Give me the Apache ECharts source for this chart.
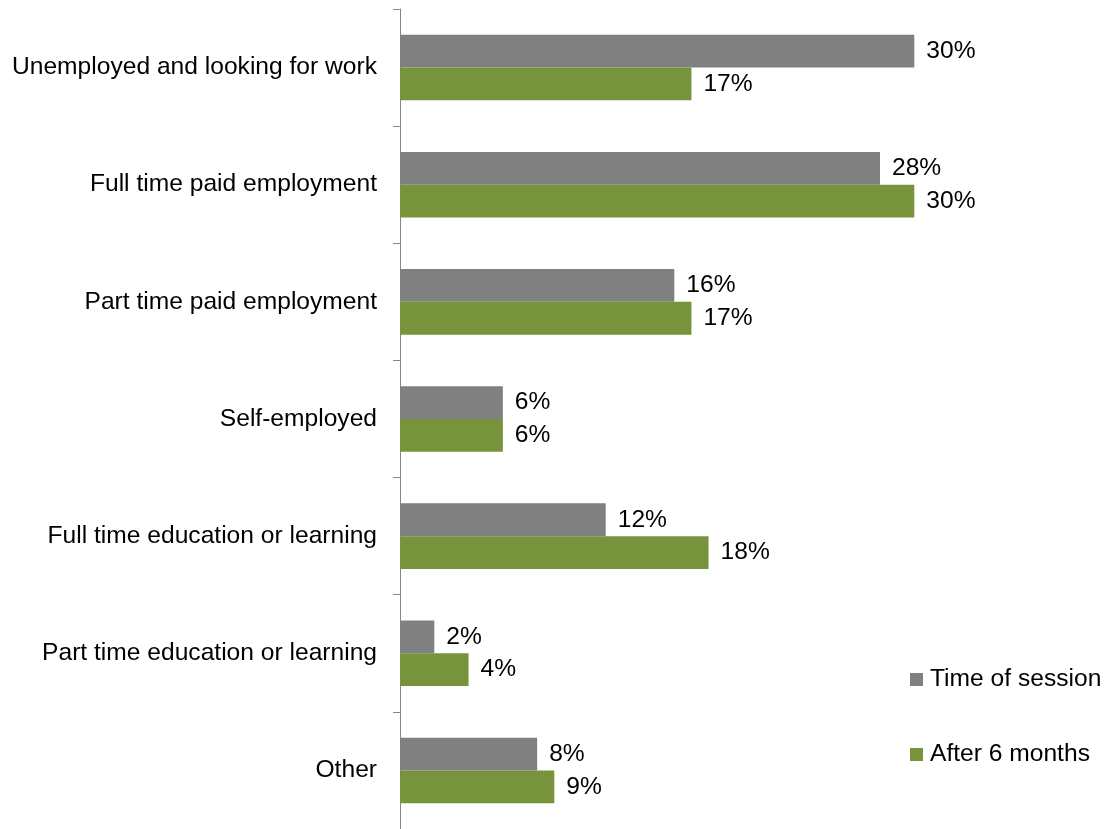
<!DOCTYPE html>
<html>
<head>
<meta charset="utf-8">
<title>Employment status</title>
<script src="https://cdn.jsdelivr.net/npm/echarts@6/dist/echarts.min.js"></script>
<style>
  html, body { margin: 0; padding: 0; background: #ffffff; }
  #chart { width: 1106px; height: 829px; }
</style>
</head>
<body>
<div id="chart"></div>
<script>
// Employment status categories, listed top to bottom
const categories = [
  'Unemployed and looking for work',
  'Full time paid employment',
  'Part time paid employment',
  'Self-employed',
  'Full time education or learning',
  'Part time education or learning',
  'Other'
];

// Share of respondents (%) in each status
const timeOfSession = [30, 28, 16, 6, 12, 2, 8];
const after6Months = [17, 30, 17, 6, 18, 4, 9];

const seriesNames = ['Time of session', 'After 6 months'];

const FONT = '"Liberation Sans", Arial, sans-serif';
const FONT_SIZE = 24.6;

const chart = echarts.init(document.getElementById('chart'));

const labelStyle = {
  show: true,
  position: 'right',
  distance: 12,
  formatter: '{c}%',
  color: '#000',
  fontFamily: FONT,
  fontSize: FONT_SIZE
};

chart.setOption({
  animation: false,
  backgroundColor: '#ffffff',
  legend: {
    orient: 'vertical',
    left: 905,
    top: 662,
    itemWidth: 13,
    itemHeight: 13,
    itemGap: 50,
    icon: 'rect',
    textStyle: { fontFamily: FONT, fontSize: FONT_SIZE, color: '#000', padding: [0, 0, 0, 2] },
    data: seriesNames
  },
  grid: {
    left: 400,
    right: 106,
    top: 9,
    bottom: 0,
    containLabel: false
  },
  xAxis: {
    type: 'value',
    min: 0,
    max: 35,
    show: false
  },
  yAxis: {
    type: 'category',
    inverse: true,
    data: categories,
    axisLine: { show: true, lineStyle: { color: '#868686', width: 1 } },
    axisTick: { show: true, length: 7, lineStyle: { color: '#868686' } },
    axisLabel: {
      margin: 23,
      color: '#000',
      fontFamily: FONT,
      fontSize: FONT_SIZE
    },
    splitLine: { show: false }
  },
  series: [
    {
      name: seriesNames[0],
      type: 'bar',
      data: timeOfSession,
      barGap: '0%',
      barCategoryGap: '44%',
      itemStyle: { color: '#808080' },
      label: labelStyle
    },
    {
      name: seriesNames[1],
      type: 'bar',
      data: after6Months,
      barGap: '0%',
      barCategoryGap: '44%',
      itemStyle: { color: '#77933c' },
      label: labelStyle
    }
  ]
});
</script>
</body>
</html>
